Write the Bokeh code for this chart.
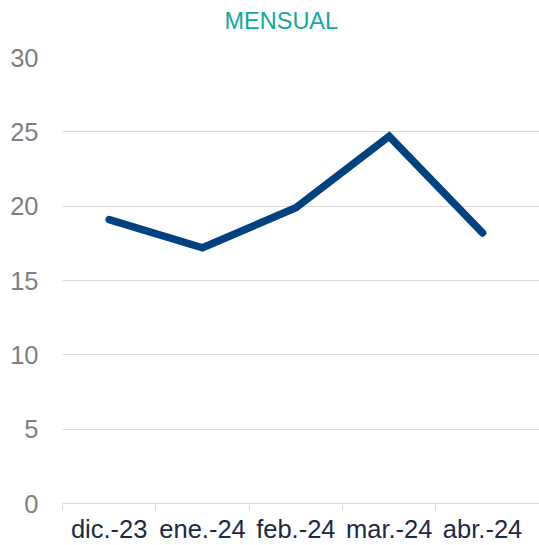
from bokeh.plotting import figure
from bokeh.models import Range1d, FixedTicker, Title
from bokeh.embed import file_html
from bokeh.resources import INLINE

title_text = "MENSUAL"
categories = ["dic.-23", "ene.-24", "feb.-24", "mar.-24", "abr.-24"]
values = [19.1, 17.2, 19.9, 24.7, 18.2]
y_ticks = [0, 5, 10, 15, 20, 25, 30]

xs = [i + 0.5 for i in range(len(categories))]

p = figure(width=539, height=545, output_backend="svg", toolbar_location=None,
           x_range=Range1d(0, 5.11), y_range=Range1d(0, 30),
           min_border_left=62, min_border_right=0, min_border_top=57,
           min_border_bottom=42)
p.outline_line_color = None
p.background_fill_color = "white"
p.border_fill_color = "white"

p.title.text = title_text
p.title.text_font = "Liberation Sans"
p.title.text_font_size = "23.5px"
p.title.text_font_style = "normal"
p.title.text_color = "#13A89E"
p.title.align = "left"
p.title.offset = 162
p.title.vertical_align = "top"
p.title.standoff = 0

# empty spacer panel between the title and the plot area
p.add_layout(Title(text=" ", text_font_size="1px", standoff=19), "above")

p.line(xs, values, line_color="#00427F", line_width=7.5,
       line_cap="round", line_join="miter")

# x axis
xa = p.xaxis[0]
xa.ticker = FixedTicker(ticks=xs, minor_ticks=list(range(len(categories))))
xa.major_label_overrides = {x: c for x, c in zip(xs, categories)}
xa.major_tick_line_color = None
xa.major_tick_out = 0
xa.major_tick_in = 0
xa.minor_tick_line_color = "#D9D9D9"
xa.minor_tick_out = 7
xa.minor_tick_in = 0
xa.axis_line_color = "#D9D9D9"
xa.axis_line_width = 1
xa.major_label_text_font = "Liberation Sans"
xa.major_label_text_font_size = "25.5px"
xa.major_label_text_color = "#1B2A47"
xa.major_label_standoff = 4

# y axis
ya = p.yaxis[0]
ya.ticker = FixedTicker(ticks=y_ticks)
ya.axis_line_color = None
ya.major_tick_line_color = None
ya.minor_tick_line_color = None
ya.major_tick_out = 0
ya.major_tick_in = 0
ya.major_label_text_font = "Liberation Sans"
ya.major_label_text_font_size = "25.5px"
ya.major_label_text_color = "#7F7F7F"
ya.major_label_standoff = 24

p.xgrid.grid_line_color = None
p.ygrid.grid_line_color = "#D9D9D9"
p.ygrid.grid_line_width = 1

open("out.html", "w").write(file_html(p, INLINE))
